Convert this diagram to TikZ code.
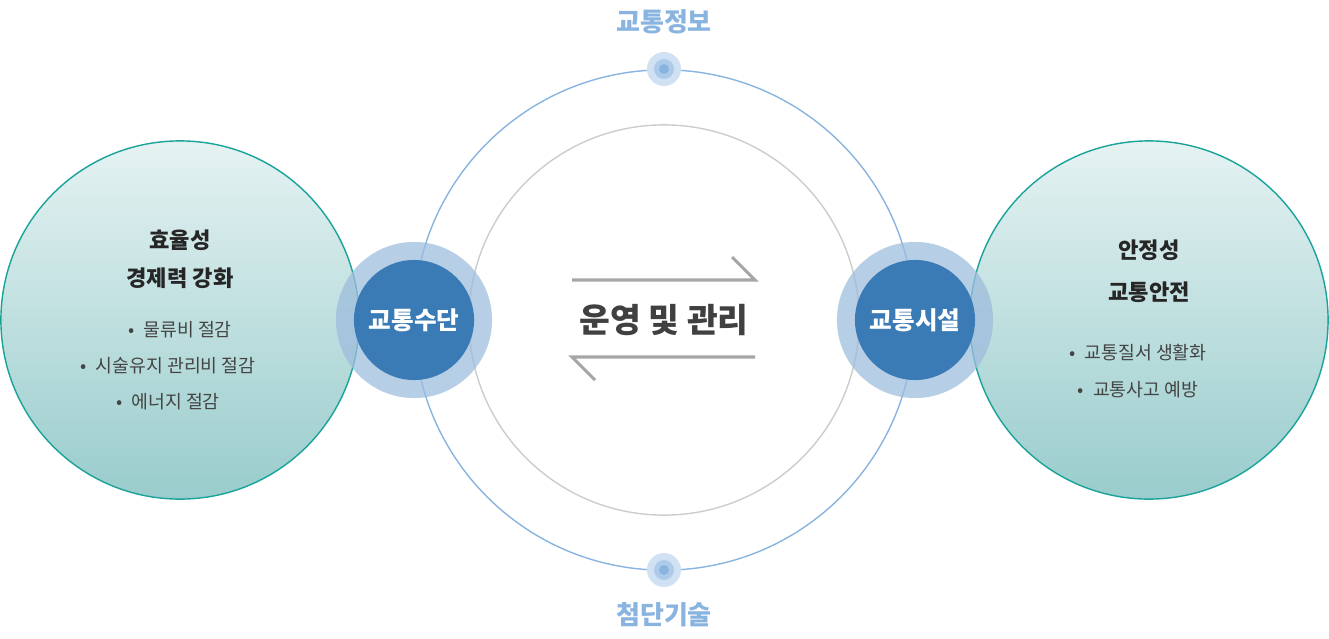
\documentclass[tikz,border=0pt]{standalone}
\usepackage{fontspec}
\setmainfont{Noto Sans CJK KR}
\usetikzlibrary{positioning}
\definecolor{tealline}{HTML}{1AA39A}
\definecolor{ringblue}{HTML}{8AB4E0}
\definecolor{ringgray}{HTML}{CCCCCC}
\definecolor{hubblue}{HTML}{3A7AB5}
\definecolor{halo}{HTML}{9DBDDD}
\definecolor{txtgray}{HTML}{444444}
\tikzset{
  bigcircle/.style={circle, draw=tealline, thin, minimum size=3.58cm, inner sep=0pt, top color=teal!10, bottom color=teal!40},
  halonode/.style={circle, fill=halo, opacity=0.75, minimum size=1.56cm, inner sep=0pt},
  hubnode/.style={circle, fill=hubblue, minimum size=1.2cm, inner sep=0pt, text=white, font=\bfseries\fontsize{7}{8}\selectfont},
  headtext/.style={font=\bfseries\fontsize{6.3}{7}\selectfont, text=black!85},
  itemtext/.style={font=\fontsize{5.2}{6}\selectfont, text=txtgray},
  labeltext/.style={font=\bfseries\fontsize{7.4}{8}\selectfont, text=ringblue},
  arrowline/.style={draw=black!35, line width=0.9pt}
}
\begin{document}
\begin{tikzpicture}[x=0.01cm, y=-0.01cm]
  \useasboundingbox (0,0) rectangle (1329,639);
  % side circles
  \node[bigcircle] (effic) at (180,320) {};
  \node[bigcircle] (safety) at (1149,320) {};
  % rings
  \node[circle, draw=ringblue, minimum size=5cm, inner sep=0pt] (outer) at (664,320) {};
  \node[circle, draw=ringgray, minimum size=3.9cm, inner sep=0pt] (inner) at (664,320) {};
  % top and bottom dots
  \foreach \n/\y in {dtop/69, dbot/570} {
    \node[circle, fill=ringblue!40, minimum size=0.34cm, inner sep=0pt] (\n) at (664,\y) {};
    \node[circle, fill=ringblue!70, minimum size=0.2cm, inner sep=0pt] at (\n) {};
    \node[circle, fill=ringblue, minimum size=0.1cm, inner sep=0pt] at (\n) {};
  }
  \node[labeltext] (info) at (664,22) {교통정보};
  \node[labeltext] (tech) at (664,615) {첨단기술};
  % hubs
  \node[halonode] (hmeans) at (414,320) {};
  \node[hubnode] (means) at (hmeans) {교통수단};
  \node[halonode] (hfacil) at (915,320) {};
  \node[hubnode] (facil) at (hfacil) {교통시설};
  % arrows
  \coordinate (a1) at (572,280); \coordinate (a2) at (755,280); \coordinate (a3) at (732,257);
  \coordinate (b1) at (755,357); \coordinate (b2) at (572,357); \coordinate (b3) at (595,380);
  \draw[arrowline] (a1) -- (a2) -- (a3);
  \draw[arrowline] (b1) -- (b2) -- (b3);
  \node[font=\bfseries\fontsize{9.5}{10}\selectfont, text=black!75] (ops) at (664,320) {운영 및 관리};
  % left texts
  \node[headtext] (l1) at (180,240) {효율성};
  \node[headtext] (l2) at (180,278) {경제력 강화};
  \node[itemtext] (l3) at (180,330) {•\enspace 물류비 절감};
  \node[itemtext] (l4) at (168,366) {•\enspace 시술유지 관리비 절감};
  \node[itemtext] (l5) at (168,402) {•\enspace 에너지 절감};
  \node[itemtext] at (l3) {};
  % right texts
  \node[headtext] (r1) at (1149,250) {안정성};
  \node[headtext] (r2) at (1149,292) {교통안전};
  \node[itemtext] (r3) at (1138,353) {•\enspace 교통질서 생활화};
  \node[itemtext] (r4) at (1138,390) {•\enspace 교통사고 예방};
\end{tikzpicture}
\end{document}
